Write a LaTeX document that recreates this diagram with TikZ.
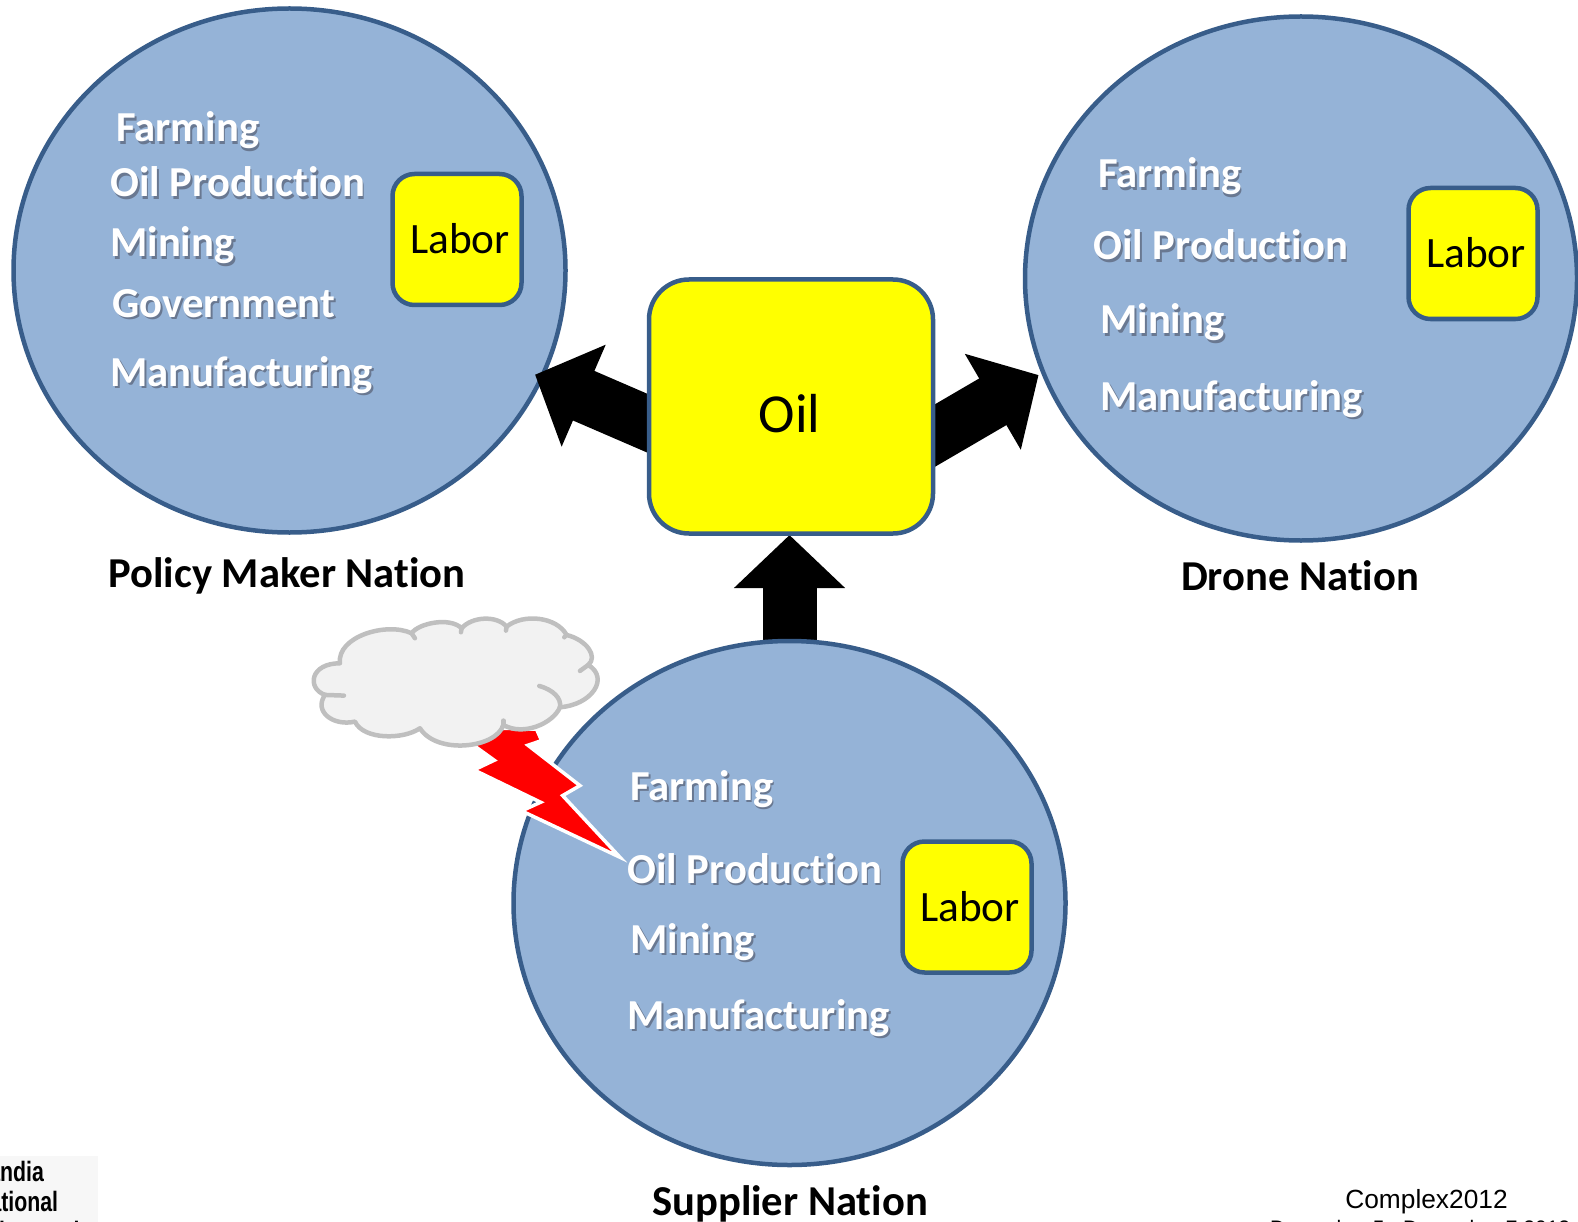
\documentclass[tikz,border=0pt]{standalone}
\usepackage{fontspec}
\setmainfont[Ligatures=NoCommon]{Carlito}
\newfontfamily\arialfont{Liberation Sans}
\newfontfamily\logofont[FakeStretch=0.76]{Liberation Sans}
\usetikzlibrary{arrows.meta,backgrounds,shapes.geometric}
\definecolor{nationblue}{RGB}{149,179,215}
\definecolor{nationline}{RGB}{56,93,138}
\definecolor{boxyellow}{RGB}{255,255,0}
\definecolor{cloudfill}{RGB}{242,242,242}
\definecolor{cloudline}{RGB}{191,191,191}
\definecolor{shadowgray}{RGB}{105,120,145}
\newcommand{\shadowed}[1]{\rlap{\kern1.8pt\raisebox{-2.2pt}{\textcolor{shadowgray}{#1}}}#1}
\tikzset{
  nation/.style={ellipse,draw=nationline,line width=4.5pt,fill=nationblue,inner sep=0pt,outer sep=0pt,minimum width=552pt,minimum height=524pt},
  sector/.style={anchor=base west,inner sep=0pt,text=white,font=\fontsize{42.7}{42.7}\selectfont\bfseries},
  caption/.style={anchor=base,inner sep=0pt,font=\fontsize{42.6}{42.6}\selectfont\bfseries},
  laborbox/.style={rectangle,rounded corners=22pt,draw=nationline,line width=4.5pt,fill=boxyellow,inner sep=0pt,outer sep=0pt,minimum width=129pt,minimum height=131pt,text height=32pt,text depth=3pt,font=\fontsize{43.3}{43.3}\selectfont},
  cloudedge/.style={cloudline,line width=4.5pt,line cap=round},
  flow/.style={line width=54pt,-{Triangle[length=53pt,width=108pt]}}
}
\begin{document}
\begin{tikzpicture}[x=1pt,y=-1pt]
\useasboundingbox (0,0) rectangle (1578,1222);

%%% Supplier and oil come first, the arrows go under them
\node[nation] (supplier) at (789.5,903) {};
\node[rectangle,rounded corners=40pt,draw=nationline,line width=4.5pt,fill=boxyellow,inner sep=0pt,outer sep=0pt,minimum width=284pt,minimum height=254pt,text height=60pt,text depth=8pt,font=\fontsize{55}{55}\selectfont] (oil) at (791,406.5) {\kern-3pt Oil};

%%% Other two nations and the arrows
\begin{scope}[on background layer]
\node[nation] (policy) at (289.5,270.5) {};
\node[nation] (drone) at (1301,278.5) {};
\draw[flow,shorten <=-20pt,shorten >=-7pt] (oil.187.3) -- (policy.-23.9);
\draw[flow,shorten <=-20pt,shorten >=5.5pt] (oil.-12.1) -- (drone.200);
\draw[flow,shorten >=1.5pt] (supplier.north) -- (supplier.north |- oil.south);
\end{scope}

%%% Labor boxes
\node[laborbox] (policylabor) at (457,239.5) {\kern6pt Labor};
\node[laborbox] (dronelabor) at (1473,253.5) {\kern6pt Labor};
\node[laborbox] (supplierlabor) at (967,907) {\kern6pt Labor};

%%% Lightning
\begin{scope}[x=0.3333pt,y=-0.3333pt,shift={(870,1800)}]
\filldraw[fill=red,draw=white,line width=3.5pt,miter limit=20] (640,385) -- (740,388) -- (755,422) -- (714,436) -- (870,557) -- (818,587) -- (990,772) -- (695,633) -- (752,607) -- (552,510) -- (613,481) -- (545,432) -- cycle;
\end{scope}

%%% Cloud
\begin{scope}[x=0.3333pt,y=-0.3333pt,shift={(870,1800)}]
\filldraw[fill=cloudfill,draw=cloudline,line width=4.5pt,line join=round] (150,190)
  .. controls (140,110) and (290,65) .. (365,100)
  .. controls (385,70) and (480,50) .. (515,85)
  .. controls (545,50) and (620,45) .. (650,80)
  .. controls (700,40) and (800,50) .. (830,105)
  .. controls (890,120) and (925,170) .. (895,195)
  .. controls (960,235) and (905,315) .. (810,322)
  .. controls (790,370) and (700,410) .. (640,375)
  .. controls (620,445) and (440,465) .. (390,385)
  .. controls (340,420) and (220,420) .. (195,365)
  .. controls (130,380) and (70,335) .. (105,285)
  .. controls (50,265) and (60,190) .. (150,190) -- cycle;
\draw[cloudedge] (365,100) -- (375,115);
\draw[cloudedge] (515,85) -- (513,97);
\draw[cloudedge] (650,80) -- (648,92);
\draw[cloudedge] (830,105) -- (823,112);
\draw[cloudedge] (895,195) -- (870,213);
\draw[cloudedge] (748,258) .. controls (790,270) and (815,295) .. (810,322);
\draw[cloudedge] (640,375) -- (640,362);
\draw[cloudedge] (105,285) -- (162,287);
\end{scope}

%%% Policy maker texts
\node[sector] (policyfarm) at (116,142) {\shadowed{Farming}};
\node[sector] (policyoil) at (110,197) {\shadowed{Oil Production}};
\node[sector] (policymine) at (110,257) {\shadowed{Mining}};
\node[sector] (policygov) at (112,317) {\shadowed{Government}};
\node[sector] (policymanu) at (110,386) {\shadowed{Manufacturing}};
\node[caption] (policyname) at (287,587) {Policy Maker Nation};

%%% Drone texts
\node[sector] (dronefarm) at (1098,188) {\shadowed{Farming}};
\node[sector] (droneoil) at (1093,260) {\shadowed{Oil Production}};
\node[sector] (dronemine) at (1100,334) {\shadowed{Mining}};
\node[sector] (dronemanu) at (1100,410) {\shadowed{Manufacturing}};
\node[caption] (dronename) at (1300,590) {Drone Nation};

%%% Supplier texts
\node[sector] (supplierfarm) at (630,800) {\shadowed{Farming}};
\node[sector] (supplieroil) at (627,883) {\shadowed{Oil Production}};
\node[sector] (suppliermine) at (630,953) {\shadowed{Mining}};
\node[sector] (suppliermanu) at (627,1029) {\shadowed{Manufacturing}};
\node[caption] (suppliername) at (790,1215) {Supplier Nation};

%%% Corners
\fill[black!3] (0,1156) rectangle (98,1222);
\node[anchor=base west,inner sep=0pt,font=\logofont\bfseries\fontsize{28}{28}\selectfont] (logoa) at (-26,1181) {Sandia};
\node[anchor=base west,inner sep=0pt,font=\logofont\bfseries\fontsize{28}{28}\selectfont] (logob) at (-26,1211) {National};
\node[anchor=base west,inner sep=0pt,font=\logofont\bfseries\fontsize{28}{28}\selectfont] (logoc) at (-26,1241) {Laboratories};
\node[anchor=base,inner sep=0pt,font=\arialfont\fontsize{26.3}{26.3}\selectfont] (confname) at (1426.5,1208) {Complex2012};
\node[anchor=base west,inner sep=0pt,font=\arialfont\fontsize{21}{21}\selectfont] (confdate) at (1270,1235) {December 5 - December 7 2012};
\end{tikzpicture}
\end{document}
